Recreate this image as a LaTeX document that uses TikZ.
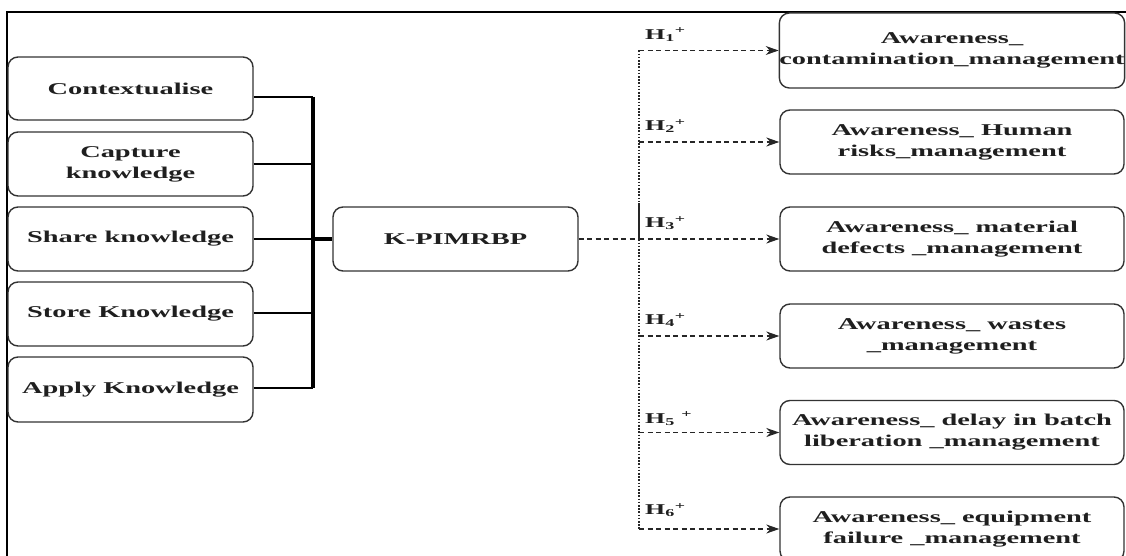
\documentclass[tikz,border=0pt]{standalone}
\usepackage{fontspec}
\setmainfont{Liberation Serif}[FakeStretch=1.72]
\usetikzlibrary{arrows.meta}
\begin{document}
\begin{tikzpicture}[x=1pt,y=-1pt,
  box/.style={draw=black!80, line width=1.4pt, rounded corners=10pt, fill=white,
    align=center, inner sep=0pt, text=black!88,
    font=\bfseries\fontsize{16.5}{21}\selectfont},
  lbox/.style={box, minimum width=245pt, minimum height=64pt},
  rbox/.style={box, minimum width=344pt, minimum height=64pt},
  feed/.style={draw=black, line width=2pt},
  bus/.style={draw=black, line width=3.2pt},
  dashlink/.style={draw=black!85, line width=1.2pt, dash pattern=on 5pt off 3.5pt},
  dasharrow/.style={dashlink, -{Stealth[length=13pt,width=9pt]}},
  dotline/.style={draw=black!85, line width=1.8pt, dash pattern=on 1.6pt off 1.6pt},
  hlab/.style={inner sep=0pt, text=black!88, font=\bfseries\fontsize{15}{15}\selectfont}]
\useasboundingbox (0,0) rectangle (1126,556);
\clip (0,0) rectangle (1126,556);

% outer frame (left and top edges)
\draw[line width=2.2pt] (7,556) -- (7,12) -- (1126,12);

% knowledge process boxes
\node[lbox, minimum height=63pt] (ctx) at (130.5,88.5) {Contextualise};
\node[lbox] (cap) at (130.5,164) {\fontsize{16.5}{16.5}\selectfont Capture\\knowledge};
\node[lbox] (sha) at (130.5,239) {Share knowledge};
\node[lbox] (sto) at (130.5,314) {Store Knowledge};
\node[lbox, minimum height=65pt] (app) at (130.5,389.5) {Apply Knowledge};

% central construct
\node[lbox] (kp) at (455.5,239) {K-PIMRBP};

% awareness outcomes
\node[rbox, minimum height=75pt] (r1) at (952,50.5) {Awareness\_\\contamination\_management};
\node[rbox] (r2) at (952,142) {Awareness\_ Human\\risks\_management};
\node[rbox] (r3) at (952,239) {Awareness\_ material\\defects \_management};
\node[rbox] (r4) at (952,336) {Awareness\_ wastes\\\_management};
\node[rbox] (r5) at (952,432.5) {Awareness\_ delay in batch\\liberation \_management};
\node[rbox] (r6) at (952,529) {Awareness\_ equipment\\failure \_management};

% bus joining the five processes
\coordinate (bt) at (313,97);
\coordinate (bb) at (313,388);
\draw[feed] ([yshift=-8.5pt]ctx.east) -- (bt);
\draw[feed] (cap.east) -- (cap.east -| bt);
\draw[feed] (sha.east) -- (sha.east -| bt);
\draw[feed] ([yshift=1pt]sto.east) -- ([yshift=1pt]sto.east -| bt);
\draw[feed] ([yshift=1.5pt]app.east) -- (bb);
\draw[bus] (bt) -- (bb);
\draw[bus] (sha.east -| bt) -- (kp.west);

% hypotheses fan-out
\coordinate (vx) at (639,239);
\draw[dashlink] (kp.east) -- (vx);
\draw[dotline] (r1.west -| vx) -- (r6.west -| vx);
\draw[draw=black!85, line width=1.4pt] ([yshift=36pt]vx) -- (vx);
\foreach \r in {r1,r2,r3,r4,r5,r6}
  \draw[dasharrow] (\r.west -| vx) -- (\r.west);

\node[hlab, anchor=south west] (h1) at ([xshift=6pt,yshift=9pt]r1.west -| vx) {H\textsubscript{1}\textsuperscript{+}};
\node[hlab, anchor=south west] (h2) at ([xshift=6pt,yshift=9pt]r2.west -| vx) {H\textsubscript{2}\textsuperscript{+}};
\node[hlab, anchor=south west] (h3) at ([xshift=6pt,yshift=9pt]r3.west -| vx) {H\textsubscript{3}\textsuperscript{+}};
\node[hlab, anchor=south west] (h4) at ([xshift=6pt,yshift=9pt]r4.west -| vx) {H\textsubscript{4}\textsuperscript{+}};
\node[hlab, anchor=south west] (h5) at ([xshift=6pt,yshift=7pt]r5.west -| vx) {H\textsubscript{5} \textsuperscript{+}};
\node[hlab, anchor=south west] (h6) at ([xshift=6pt,yshift=12pt]r6.west -| vx) {H\textsubscript{6}\textsuperscript{+}};
\end{tikzpicture}
\end{document}
